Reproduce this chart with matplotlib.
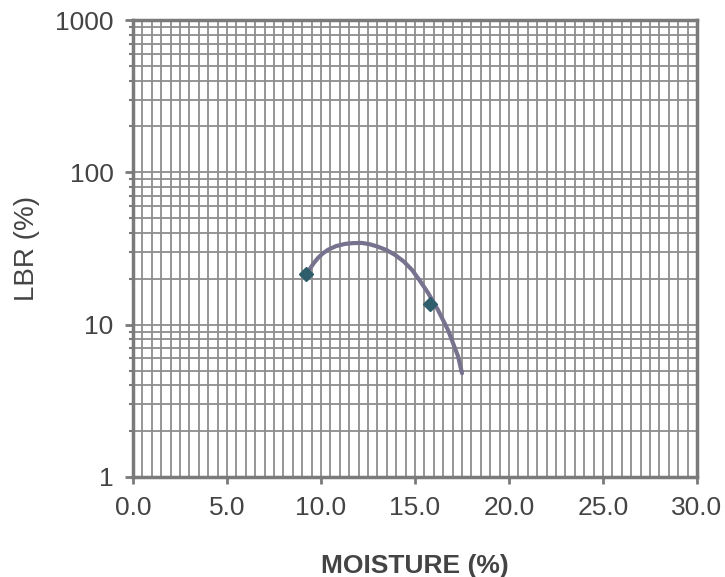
import numpy as np
import matplotlib.pyplot as plt
from matplotlib.ticker import MultipleLocator, LogLocator, FixedFormatter, FixedLocator, NullFormatter

#%% Data
moisture = [9.2, 15.8]
lbr = [21.5, 13.7]

# trendline, traced point by point
trend_x = [9.31, 9.6, 9.84, 10.1, 10.37, 10.8, 11.28, 11.7, 12.18, 12.6, 13.03, 13.5,
           13.94, 14.4, 14.84, 15.25, 15.69, 16.22, 16.76, 17.29, 17.50]
trend_y = [22.3, 25.2, 27.4, 29.4, 31.0, 32.8, 33.9, 34.3, 34.4, 33.7, 32.5, 30.8,
           28.7, 26.0, 22.9, 19.5, 16.2, 12.5, 9.2, 6.2, 4.8]

xticks = [0, 5, 10, 15, 20, 25, 30]
xticklabels = ['0.0', '5.0', '10.0', '15.0', '20.0', '25.0', '30.0']
yticks = [1, 10, 100, 1000]
yticklabels = ['1', '10', '100', '1000']

#%% Style
grid_col = '#8e8e8e'
spine_col = '#7a7a7a'
text_col = '#444444'
plt.rcParams['font.family'] = ['Liberation Sans', 'DejaVu Sans']

#%% Plot
f = plt.figure(figsize=(7.25, 5.77), dpi=100)
ax = f.add_axes([133/725, 1 - 477/577, (697 - 133)/725, (477 - 20)/577])

ax.set_yscale('log')
ax.set_xlim(0, 30)
ax.set_ylim(1, 1000)

ax.xaxis.set_major_locator(FixedLocator(xticks))
ax.xaxis.set_major_formatter(FixedFormatter(xticklabels))
ax.xaxis.set_minor_locator(MultipleLocator(0.5))
ax.yaxis.set_major_locator(FixedLocator(yticks))
ax.yaxis.set_major_formatter(FixedFormatter(yticklabels))
ax.yaxis.set_minor_locator(LogLocator(base=10, subs=np.arange(2, 10)))
ax.yaxis.set_minor_formatter(NullFormatter())

ax.grid(True, which='both', color=grid_col, lw=1.3)
ax.set_axisbelow(True)

ax.plot(trend_x, trend_y, color='#77738f', lw=3, solid_capstyle='round',
        solid_joinstyle='round', zorder=3)
ax.plot(moisture, lbr, ls='none', marker='D', ms=7, color='#2f5d6b', zorder=4)

for s in ax.spines.values():
    s.set_color(spine_col)
    s.set_linewidth(2.5)

ax.tick_params(axis='x', which='major', direction='out', length=5, width=2,
               color=spine_col, labelsize=19, labelcolor=text_col, pad=9)
ax.tick_params(axis='x', which='minor', length=0)
ax.tick_params(axis='y', which='major', direction='out', length=6, width=2,
               color=spine_col, labelsize=19, labelcolor=text_col, pad=8)
ax.tick_params(axis='y', which='minor', direction='out', length=3, width=1.5,
               color=spine_col)

ax.set_xlabel('MOISTURE (%)', fontsize=19, fontweight='bold', color=text_col, labelpad=24)
ax.set_ylabel('LBR (%)', fontsize=20, color=text_col, labelpad=11)

plt.savefig('out.png', dpi=100)
